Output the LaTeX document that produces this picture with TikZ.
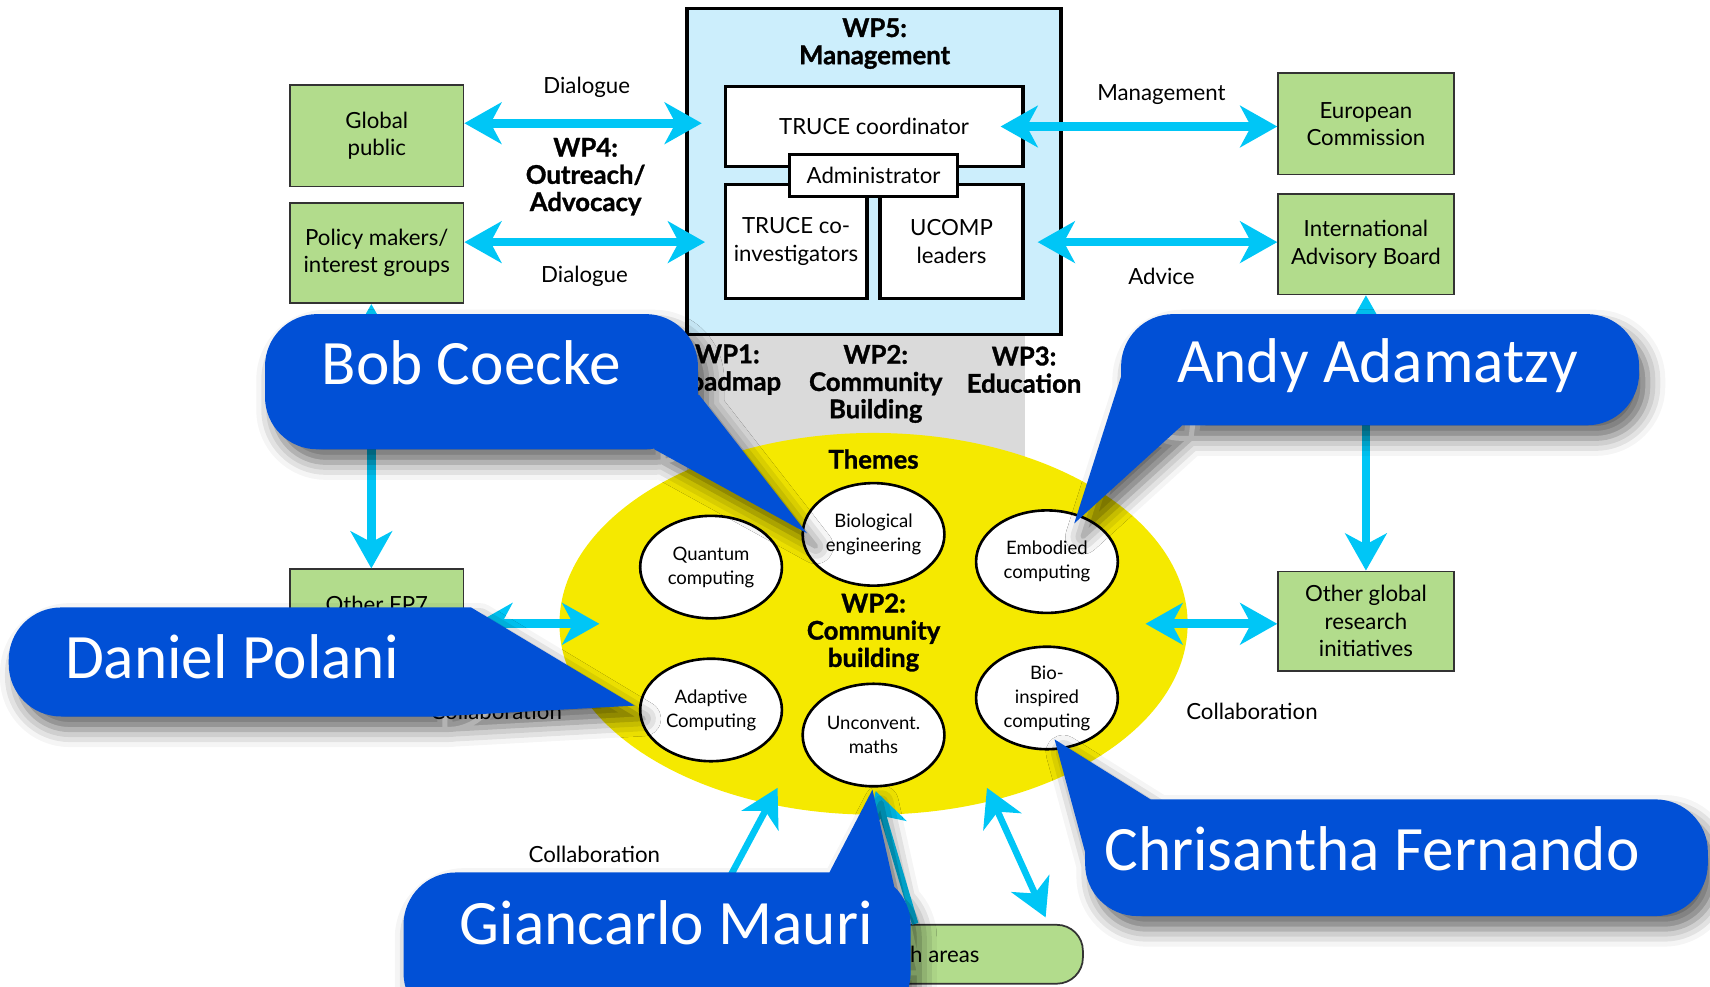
\documentclass[tikz,border=0pt]{standalone}
\usepackage{fontspec}
\setmainfont{Lato}
\newfontfamily\calloutfont{Carlito}
\newfontfamily\heavyfont{Lato}[FakeBold=1.2]
\usetikzlibrary{arrows.meta,shapes.geometric,calc,shadows.blur}

\definecolor{wpblue}{HTML}{CCEEFC}
\definecolor{boxgreen}{HTML}{B2DC8C}
\definecolor{flowcyan}{HTML}{00C6F6}
\definecolor{themeyellow}{HTML}{F5E900}
\definecolor{bandgrey}{HTML}{DADADA}
\definecolor{calloutblue}{HTML}{0150D6}

\tikzset{
  txt/.style={font=\fontsize{10.2}{12.5}\selectfont, align=center, inner sep=0pt},
  heading/.style={font=\heavyfont\bfseries\fontsize{11.8}{12.5}\selectfont, align=center, inner sep=0pt},
  greenbox/.style={txt, draw=black!80, line width=0.8pt, fill=boxgreen},
  mgmtbox/.style={txt, draw=black, line width=1.5pt, fill=white},
  theme/.style={ellipse, draw=black, line width=1.2pt, fill=white,
    minimum width=65pt, minimum height=47pt, inner sep=0pt, align=center,
    font=\fontsize{8.5}{11}\selectfont},
  flowtip/.style={arrows={-Stealth[length=17pt,width=19pt,inset=5pt]}},
  flow/.style={draw=flowcyan, line width=4pt,
    arrows={Stealth[length=17pt,width=19pt,inset=5pt]-Stealth[length=17pt,width=19pt,inset=5pt]}},
  thinflow/.style={draw=flowcyan, line width=3pt},
  callout/.style={fill=calloutblue,
    blur shadow={shadow xshift=4pt, shadow yshift=-6pt, shadow blur radius=8pt, shadow opacity=60}},
  callouttext/.style={font=\calloutfont\fontsize{29}{30}\selectfont, text=white, inner sep=0pt}
}

\begin{document}
\begin{tikzpicture}[x=0.5pt,y=-0.5pt]
\useasboundingbox (0,0) rectangle (1568,905);

% grey band behind the work-package headings
\fill[bandgrey] (630,307) rectangle (940,470);

% WP5 management block
\node[draw=black, line width=1.5pt, fill=wpblue, minimum width=171.5pt, minimum height=149.5pt, inner sep=0pt] (wp5) at (801.5,157.5) {};
\node[heading] (wp5t) at (802,40) {WP5:\\Management};
\node[mgmtbox, minimum width=136.5pt, minimum height=37pt] (coord) at (801.5,116) {TRUCE coordinator};
\node[mgmtbox, minimum width=65pt, minimum height=52.5pt] (coinv) at (730,221.5) {TRUCE co-\\investigators};
\node[mgmtbox, minimum width=65.5pt, minimum height=52.5pt] (ucomp) at (872.5,221.5) {UCOMP\\leaders};
\node[mgmtbox, minimum width=77pt, minimum height=19pt] (admin) at (801,161) {Administrator};

% work-package headings
\node[heading] (wp1) at (667,339) {WP1:\\Roadmap};
\node[heading] (wp2h) at (803,352) {WP2:\\Community\\Building};
\node[heading] (wp3) at (939,339) {WP3:\\Education};

% stakeholder boxes
\node[greenbox, minimum width=79.5pt, minimum height=46.5pt] (gp) at (345.5,124.5) {Global\\public};
\node[greenbox, minimum width=79.5pt, minimum height=46pt] (pm) at (345.5,232) {Policy makers/\\interest groups};
\node[greenbox, minimum width=79.5pt, minimum height=46.5pt] (fp7) at (345.5,568.5) {Other FP7\\projects};
\node[greenbox, minimum width=80.5pt, minimum height=46.5pt] (ec) at (1252.5,113.5) {European\\Commission};
\node[greenbox, minimum width=80.5pt, minimum height=46pt] (iab) at (1252.5,224) {International\\Advisory Board};
\node[greenbox, minimum width=80.5pt, minimum height=45.5pt] (ogr) at (1252.5,569.5) {Other global\\research\\initiatives};
\node[greenbox, rounded corners=12pt, minimum width=188pt, minimum height=27pt] (ra) at (805,875) {Other research areas};

% community-building themes
\node[ellipse, fill=themeyellow, minimum width=288pt, minimum height=175pt, inner sep=0pt] (wp2) at (801,572) {};
\node[heading] (themes) at (801,421) {Themes};
\node[heading] (wp2t) at (801,580) {WP2:\\Community\\building};
\node[theme] (quant) at (652,520) {Quantum\\computing};
\node[theme] (bioeng) at (801,490) {Biological\\engineering};
\node[theme] (embod) at (960,515) {Embodied\\computing};
\node[theme] (adapt) at (652,651) {Adaptive\\Computing};
\node[theme] (maths) at (801,674) {Unconvent.\\maths};
\node[theme] (bioinsp) at (960,640) {Bio-\\inspired\\computing};

% WP4 outreach
\node[heading] (wp4) at (537,162) {WP4:\\Outreach/\\Advocacy};

% connectors
\draw[flow] (gp.east |- 0,113) -- ($(wp5.west |- 0,113)+(15,0)$);
\draw[flow] (pm.east |- 0,222) -- ($(wp5.west |- 0,222)+(18,0)$);
\draw[flow] ($(coord.east)+(-22,0)$) -- (ec.west |- 0,116);
\draw[flow] ($(ucomp.east |- 0,222)+(12,0)$) -- (iab.west |- 0,222);
\draw[flow] ($(pm.south)+(-5,0)$) -- ($(fp7.north)+(-5,0)$);
\draw[flow] (iab.south) -- (ogr.north);
\draw[flow] ($(fp7.east |- 0,572)+(10,0)$) -- ($(wp2.west)+(37,0)$);
\draw[flow] ($(wp2.east)+(-39,0)$) -- (ogr.west |- 0,572);
\draw[thinflow, flowtip] ($(ra.north west)+(30,0)$) -- ($(wp2.south)+(-88,-25)$);
\draw[thinflow, flowtip] ($(ra.north west)+(223,0)$) -- ($(wp2.south)+(2,-22)$);
\draw[thinflow, flow, line width=3pt] ($(ra.north east)+(-35,-6)$) -- ($(wp2.south)+(104,-25)$);

% connector labels
\node[txt] (dlg1) at (538,80) {Dialogue};
\node[txt] (dlg2) at (536,253) {Dialogue};
\node[txt] (mgmt) at (1065,87) {Management};
\node[txt] (adv) at (1065,253) {Advice};
\node[txt] (col1) at (455,652) {Collaboration};
\node[txt] (col2) at (1148,652) {Collaboration};
\node[txt] (col3) at (545,783) {Collaboration};

% name callouts
\path[callout] [rounded corners=24pt] (243,288) rectangle (640,412)
  [sharp corners] (600,412) -- (740,489) -- (641,362) -- (600,362) -- cycle;
\node[callouttext] (bob) at (432,333) {Bob Coecke};

\path[callout] [rounded corners=24pt] (1028,288) rectangle (1503,390)
  [sharp corners] (985,480) -- (1084,390) -- (1090,345) -- (1029,342) -- cycle;
\node[callouttext] (andy) at (1263,335) {Andy Adamatzy};

\path[callout] [rounded corners=24pt] (8,557) rectangle (450,657)
  [sharp corners] (400,657) -- (582,647) -- (432,557) -- (400,557) -- cycle;
\node[callouttext] (daniel) at (213,602) {Daniel Polani};

\path[callout] [rounded corners=24pt] (995,733) rectangle (1566,840)
  [sharp corners] (1000,800) -- (1060,800) -- (1055,733) -- (967,678) -- cycle;
\node[callouttext] (chris) at (1258,778) {Chrisantha Fernando};

\path[callout] [rounded corners=24pt] (370,800) rectangle (835,940)
  [sharp corners] (760,880) -- (835,880) -- (800,724) -- (760,801) -- cycle;
\node[callouttext] (gian) at (611,846) {Giancarlo Mauri};
\end{tikzpicture}
\end{document}
